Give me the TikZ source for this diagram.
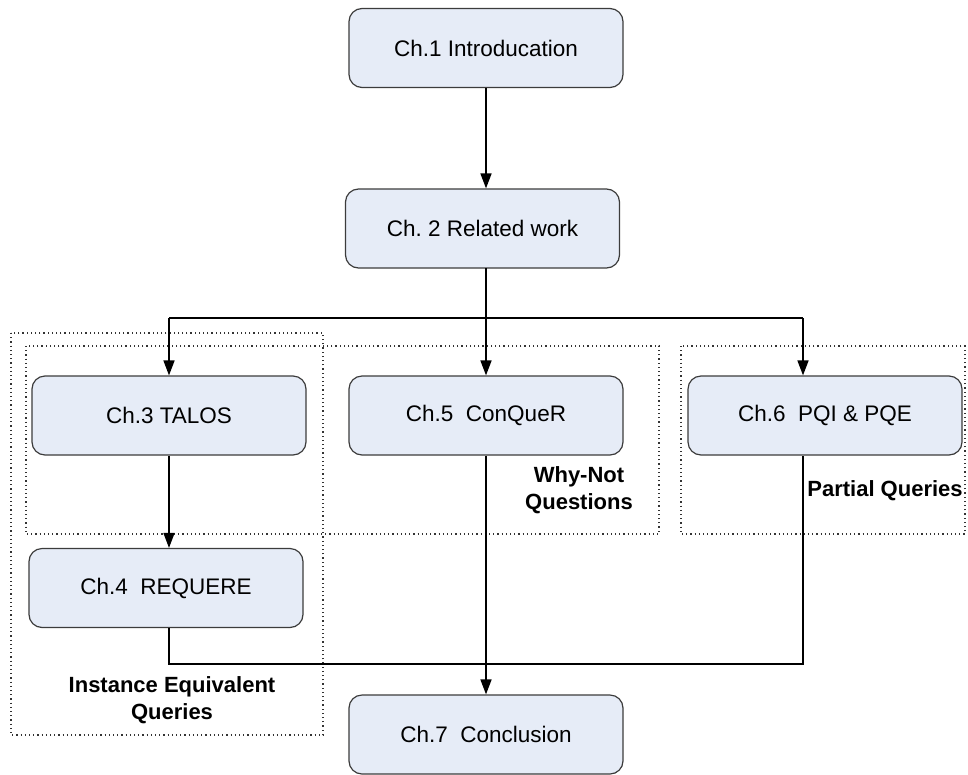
\documentclass[tikz,border=0pt]{standalone}
\usepackage{fontspec}
\setmainfont{Liberation Sans}
\usetikzlibrary{arrows.meta}
\definecolor{boxfill}{RGB}{230,236,247}
\definecolor{boxline}{RGB}{60,60,60}
\frenchspacing
\begin{document}
\begin{tikzpicture}[x=1pt,y=-1pt,
  chap/.style={draw=boxline,fill=boxfill,line width=1.2pt,rounded corners=13pt,
    minimum width=274pt,minimum height=79pt,inner sep=0pt,font=\fontsize{22.5}{26}\selectfont},
  conn/.style={line width=1.6pt,black},
  arr/.style={conn,-{Triangle[length=15pt,width=11pt]}},
  grp/.style={line width=1.2pt,dash pattern=on 1.2pt off 3pt,black!80},
  lbl/.style={font=\fontsize{22}{27}\selectfont\bfseries,align=center,inner sep=0pt}]
\useasboundingbox (0,0) rectangle (968,774);
% group boxes
\draw[grp] (11,333) rectangle (323,735);
\draw[grp] (26,346) rectangle (659,534);
\draw[grp] (681,346) rectangle (965,534);
% chapters
\node[chap] (ch1) at (486,48) {Ch.1 Introducation};
\node[chap] (ch2) at (482.5,228.5) {Ch. 2 Related work};
\node[chap] (ch3) at (169,415.5) {Ch.3 TALOS};
\node[chap] (ch5) at (486,415.5) {Ch.5~ ConQueR};
\node[chap] (ch6) at (825,415.5) {Ch.6~ PQI \& PQE};
\node[chap] (ch4) at (166,588) {Ch.4~ REQUERE};
\node[chap] (ch7) at (486,734.5) {Ch.7~ Conclusion};
% labels
\node[lbl] (lwn) at (579,490.5) {Why-Not\\Questions};
\node[lbl] (lpq) at (885,491) {Partial Queries};
\node[lbl] (lie) at (172,700) {Instance Equivalent\\Queries};
% coordinates
\coordinate (c2s) at (486,268);
\coordinate (split) at (486,318);
\coordinate (s3) at (169,318);
\coordinate (s6) at (803,318);
\coordinate (m4) at (169,664);
\coordinate (m6) at (803,664);
% connectors
\draw[arr] (ch1.south) -- (ch1.south |- ch2.north);
\draw[conn] (c2s) -- (split);
\draw[conn] (s3) -- (s6);
\draw[arr] (s3) -- (s3 |- ch3.north);
\draw[arr] (split) -- (ch5.north);
\draw[arr] (s6) -- (s6 |- ch6.north);
\draw[arr] (ch3.south) -- (ch3.south |- ch4.north);
\draw[arr] (ch5.south) -- (ch7.north);
\draw[conn] (ch3.south |- ch4.south) -- (m4) -- (m6) -- (s6 |- ch6.south);
\end{tikzpicture}
\end{document}
